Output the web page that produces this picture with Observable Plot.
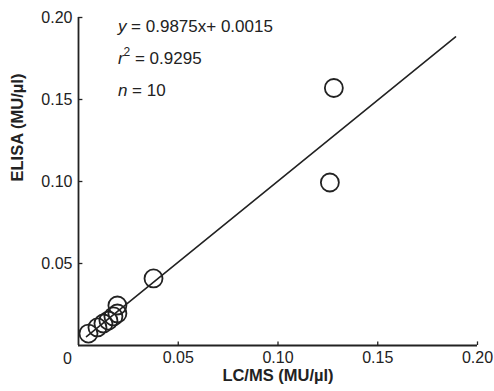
<!DOCTYPE html>
<html>
<head>
<meta charset="utf-8">
<script src="https://cdn.jsdelivr.net/npm/d3@7"></script>
<script src="https://cdn.jsdelivr.net/npm/@observablehq/plot@0.6"></script>
<style>
  html, body { margin: 0; padding: 0; background: #fff; }
</style>
</head>
<body>
<div id="chart"></div>
<script>
// Data
const lcms  = [0.005, 0.0095, 0.0125, 0.015, 0.0175, 0.0195, 0.0195, 0.0376, 0.126, 0.128];
const elisa = [0.0073, 0.011, 0.0134, 0.0152, 0.0177, 0.0195, 0.0244, 0.0409, 0.0994, 0.157];
const slope = 0.9875;
const intercept = 0.0015;
const fitX = [0.004, 0.189];
const xTicks = [0, 0.05, 0.10, 0.15, 0.20];
const yTicks = [0, 0.05, 0.10, 0.15, 0.20];
const xTitle = "LC/MS (MU/\u00b5l)";
const yTitle = "ELISA (MU/\u00b5l)";

const points = lcms.map((x, i) => ({x, y: elisa[i]}));
const fit = fitX.map(x => ({x, y: slope * x + intercept}));
const fmt = d => d === 0 ? "" : d3.format(".2f")(d);
const ink = "#222";
const font = "'Liberation Sans', Arial, Helvetica, sans-serif";

const plot = Plot.plot({
  width: 494,
  height: 391,
  marginLeft: 78,
  marginRight: 17,
  marginTop: 17,
  marginBottom: 46,
  style: {fontFamily: font, fontSize: "16px", color: ink, background: "#fff", overflow: "visible"},
  x: {domain: [0, 0.2]},
  y: {domain: [0, 0.2]},
  marks: [
    Plot.axisX({ticks: xTicks, tickFormat: fmt, tickSize: 0, tickPadding: 6, label: null, fontSize: 16}),
    Plot.axisY({ticks: yTicks, tickFormat: fmt, tickSize: 0, tickPadding: 6, label: null, fontSize: 16}),
    Plot.ruleX(xTicks.slice(1), {y1: 0, y2: 0.0022, stroke: ink, strokeWidth: 1.3}),
    Plot.ruleY(yTicks.slice(1), {x1: 0, x2: 0.0022, stroke: ink, strokeWidth: 1.3}),
    Plot.ruleX([0], {stroke: ink, strokeWidth: 1.8}),
    Plot.ruleY([0], {stroke: ink, strokeWidth: 1.8}),
    Plot.text([0], {x: 0, y: 0, text: () => "0", dx: -11, dy: 13, fontSize: 16, fill: ink}),
    Plot.line(fit, {x: "x", y: "y", stroke: ink, strokeWidth: 1.6}),
    Plot.dot(points, {x: "x", y: "y", r: 9, stroke: ink, strokeWidth: 1.8, fill: "none"}),
    Plot.text([xTitle], {frameAnchor: "bottom", text: d => d, dy: 35, fontSize: 16.5, fontWeight: "bold", fill: ink}),
    Plot.text([yTitle], {frameAnchor: "left", text: d => d, rotate: -90, dx: -61, fontSize: 16.5, fontWeight: "bold", fill: ink})
  ]
});

document.getElementById("chart").appendChild(plot);

// Equation annotation positioned through the plot's scales
const sx = plot.scale("x"), sy = plot.scale("y");
const svg = d3.select(plot);
const ann = svg.append("g")
  .attr("font-family", font)
  .attr("font-size", 17)
  .attr("text-anchor", "start")
  .attr("fill", ink);
const ax = sx.apply(0.02);
const lines = [
  {y: 0.1935, parts: [["y", true], [" = 0.9875x+ 0.0015", false]]},
  {y: 0.1735, parts: [["r", true], ["2", false, true], [" = 0.9295", false]]},
  {y: 0.1545, parts: [["n", true], [" = 10", false]]}
];
for (const l of lines) {
  const t = ann.append("text")
    .attr("x", ax)
    .attr("y", sy.apply(l.y))
    .attr("dominant-baseline", "middle");
  for (const [s, it, sup] of l.parts) {
    const ts = t.append("tspan").text(s);
    if (it) ts.attr("font-style", "italic");
    if (sup) ts.attr("font-size", 12).attr("baseline-shift", "super");
  }
}
</script>
</body>
</html>
